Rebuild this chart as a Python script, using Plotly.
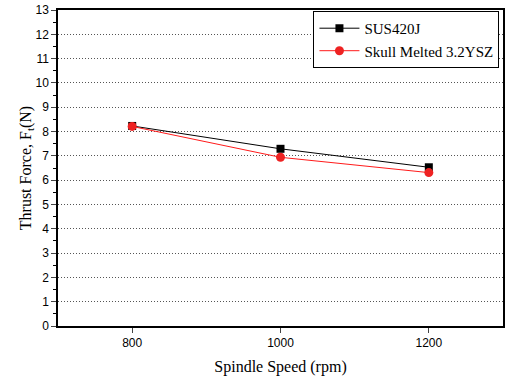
import plotly.graph_objects as go

speeds = [800, 1000, 1200]
sus420j = [8.23, 7.29, 6.53]
skull_ysz = [8.21, 6.94, 6.31]
y_ticks = list(range(0, 14))

fig = go.Figure()
fig.add_trace(go.Scatter(x=speeds, y=sus420j, mode="lines+markers", name="SUS420J",
                         line=dict(color="black", width=1),
                         marker=dict(symbol="square", size=8, color="black")))
fig.add_trace(go.Scatter(x=speeds, y=skull_ysz, mode="lines+markers", name="Skull Melted 3.2YSZ",
                         line=dict(color="#ff1a1a", width=1),
                         marker=dict(symbol="circle", size=9, color="#ee2222")))

fig.update_layout(
    width=506, height=380,
    margin=dict(l=58, r=1, t=10, b=54),
    plot_bgcolor="white", paper_bgcolor="white",
    font=dict(family="Liberation Sans", color="black", size=12),
    showlegend=True,
    legend=dict(x=0.992, y=0.997, xanchor="right", yanchor="top",
                bordercolor="black", borderwidth=1, bgcolor="white",
                font=dict(family="Liberation Serif", size=15),
                tracegroupgap=0, itemwidth=40),
    xaxis=dict(range=[700, 1300], tickvals=speeds, ticks="outside", ticklen=5,
               showline=True, linecolor="black", linewidth=1.5, mirror=True,
               showgrid=False, zeroline=False,
               tickfont=dict(family="Liberation Sans", size=12),
               title=dict(text="Spindle Speed (rpm)", font=dict(family="Liberation Serif", size=16), standoff=12)),
    yaxis=dict(range=[0, 13], tickvals=y_ticks, ticks="outside", ticklen=5,
               showline=True, linecolor="black", linewidth=1.5, mirror=True,
               showgrid=True, gridcolor="#555", griddash="1px,2px", gridwidth=1,
               zeroline=False,
               minor=dict(dtick=0.5, ticks="outside", ticklen=3, tickcolor="black"),
               tickfont=dict(family="Liberation Sans", size=12),
               title=dict(text="Thrust Force, F<sub>t</sub>(N)", font=dict(family="Liberation Serif", size=16), standoff=0)),
)

fig.write_html("out.html")
